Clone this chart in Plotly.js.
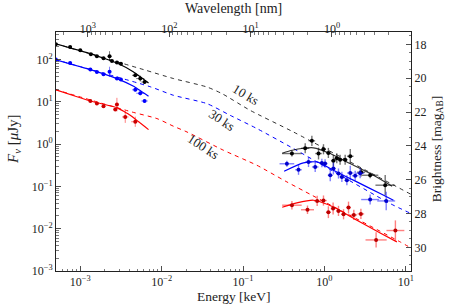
<!DOCTYPE html>
<html>
<head>
<meta charset="utf-8">
<script src="https://cdn.plot.ly/plotly-3.0.1.min.js"></script>
<style>html,body{margin:0;padding:0;background:#fff;}#chart{width:463px;height:305px;}</style>
</head>
<body>
<div id="chart"></div>
<script>
// ---- Data (Energy in keV, flux density in microJy) ----
// Unabsorbed model (dashed)
const mod10E = [4.93e-4, 6.0e-3, 0.014, 0.036, 0.0551, 0.1225, 0.417, 11.6];
const mod10F = [239, 58, 35.6, 22.5, 15.7, 6.3, 1.94, 0.065];
const mod30E = [4.93e-4, 7.24e-3, 0.014, 0.036, 0.0697, 0.148, 0.417, 6.43, 11.6];
const mod30F = [100, 22.8, 14.3, 9.1, 4.8, 2.34, 0.787, 0.0394, 0.0229];
const mod100E = [4.93e-4, 4.31e-3, 8.75e-3, 0.014, 0.0205, 0.0575, 0.148, 0.346, 8.53, 11.6];
const mod100F = [19.5, 5.77, 4.03, 2.65, 1.94, 0.718, 0.317, 0.128, 0.00488, 0.0035];

// Absorbed model, optical/UV (solid)
const opt10ModE = [4.93e-4, 1.33e-3, 2.82e-3, 4.52e-3, 6.9e-3];
const opt10ModF = [239, 138.6, 83, 50.9, 28];
const opt30ModE = [4.93e-4, 1.33e-3, 2.82e-3, 4.52e-3, 6.9e-3];
const opt30ModF = [100, 58, 35.6, 23.4, 13.6];
const opt100ModE = [4.93e-4, 1.33e-3, 2.82e-3, 4.11e-3, 6.9e-3];
const opt100ModF = [19.5, 10.5, 7.33, 4.82, 2.21];

// Absorbed model, X-ray (solid)
const xr10ModE = [0.303, 0.402, 0.553, 0.734, 1.18, 2.07, 4.01, 6.8];
const xr10ModF = [0.61, 0.718, 0.80, 0.82, 0.60, 0.348, 0.184, 0.101];
const xr30ModE = [0.32, 0.553, 0.81, 1.29, 2.51, 4.85, 7.06];
const xr30ModF = [0.229, 0.36, 0.38, 0.241, 0.128, 0.068, 0.047];
const xr100ModE = [0.303, 0.459, 0.734, 1.29, 2.51, 4.85, 7.78];
const xr100ModF = [0.0322, 0.0407, 0.0472, 0.0327, 0.0159, 0.00796, 0.00488];

// Optical/UV data points (errors in dex)
const opt10E = [5.0e-4, 7.5e-4, 1.0e-3, 1.35e-3, 1.6e-3, 1.93e-3, 2.29e-3, 2.45e-3, 2.82e-3, 3.16e-3, 4.74e-3, 5.46e-3, 6.17e-3];
const opt10F = [230, 199, 166, 133, 120, 107, 120, 93, 85, 80, 42.5, 35.6, 29.5];
const opt10Ex = [0.02,0.02,0.02,0.02,0.02,0.02,0.02,0.02,0.02,0.02,0.04,0.05,0.04];
const opt10Ey = [0.02,0.02,0.02,0.02,0.02,0.03,0.12,0.03,0.02,0.03,0.04,0.07,0.04];

const opt30E = [5.0e-4, 7.5e-4, 1.33e-3, 1.6e-3, 1.93e-3, 2.29e-3, 2.82e-3, 3.16e-3, 4.74e-3, 5.46e-3, 6.17e-3];
const opt30F = [100, 83, 58, 51, 44.9, 51.5, 35.6, 33.7, 19.3, 16, 10.5];
const opt30Ex = [0.02,0.02,0.02,0.02,0.02,0.02,0.02,0.02,0.04,0.05,0.04];
const opt30Ey = [0.02,0.02,0.02,0.02,0.03,0.12,0.02,0.03,0.04,0.05,0.04];

const opt100E = [1.33e-3, 1.6e-3, 1.93e-3, 2.69e-3, 2.82e-3, 3.57e-3, 4.74e-3];
const opt100F = [10.5, 9.1, 7.87, 6.58, 8.63, 4.4, 3.39];
const opt100Ex = [0.02,0.02,0.02,0.02,0.02,0.04,0.05];
const opt100Ey = [0.02,0.03,0.03,0.03,0.16,0.14,0.12];

// X-ray data points (errors in dex)
const xr10E = [0.399, 0.581, 0.702, 0.847, 0.975, 1.12, 1.29, 1.42, 1.56, 1.80, 2.08, 2.83, 3.65, 5.59];
const xr10F = [0.60, 0.80, 1.2, 0.60, 0.757, 0.62, 0.405, 0.465, 0.428, 0.428, 0.518, 0.217, 0.184, 0.107];
const xr10Ex = [0.12,0.05,0.04,0.04,0.03,0.03,0.03,0.03,0.03,0.03,0.04,0.05,0.1,0.12];
const xr10Ey = [0.07,0.12,0.12,0.14,0.12,0.12,0.14,0.12,0.12,0.12,0.17,0.1,0.07,0.24];

const xr30E = [0.346, 0.481, 0.638, 0.771, 0.931, 1.02, 1.18, 1.29, 1.49, 1.64, 1.89, 2.08, 2.39, 2.75, 3.65, 5.75];
const xr30F = [0.344, 0.248, 0.379, 0.289, 0.36, 0.348, 0.184, 0.265, 0.202, 0.168, 0.14, 0.208, 0.179, 0.205, 0.049, 0.0454];
const xr30Ex = [0.09,0.04,0.04,0.04,0.03,0.03,0.03,0.03,0.03,0.03,0.03,0.04,0.04,0.05,0.11,0.11];
const xr30Ey = [0.07,0.12,0.12,0.12,0.1,0.1,0.14,0.14,0.12,0.12,0.12,0.17,0.12,0.12,0.12,0.22];

const xr100E = [0.399, 0.62, 0.815, 0.975, 1.12, 1.28, 1.49, 1.72, 1.98, 2.30, 2.81, 4.32, 7.46];
const xr100F = [0.036, 0.0281, 0.0454, 0.0464, 0.0246, 0.0301, 0.0264, 0.022, 0.0317, 0.0212, 0.0224, 0.00543, 0.00906];
const xr100Ex = [0.12,0.08,0.04,0.04,0.03,0.03,0.03,0.03,0.03,0.04,0.04,0.13,0.11];
const xr100Ey = [0.1,0.1,0.12,0.12,0.14,0.14,0.12,0.12,0.14,0.12,0.12,0.18,0.24];

// Tick labels
const xTickVals = [1e-3, 1e-2, 1e-1, 1, 10];
const xTickText = ['10<sup>−3</sup>', '10<sup>−2</sup>', '10<sup>−1</sup>', '10<sup>0</sup>', '10<sup>1</sup>'];
const yTickVals = [1e-3, 1e-2, 1e-1, 1, 10, 100];
const yTickText = ['10<sup>−3</sup>', '10<sup>−2</sup>', '10<sup>−1</sup>', '10<sup>0</sup>', '10<sup>1</sup>', '10<sup>2</sup>'];
const waveTicks = [1000, 100, 10, 1];
const waveTickText = ['10<sup>3</sup>', '10<sup>2</sup>', '10<sup>1</sup>', '10<sup>0</sup>'];
const magTicks = [18, 20, 22, 24, 26, 28, 30];

// ---- Conversions ----
const HC = 1.23984; // keV nm
const AB0 = 23.9;   // AB zero point for microJy
const magToF = m => Math.pow(10, (AB0 - m) / 2.5);

function errs(v, d) {
  return {
    plus: v.map((f, i) => f * (Math.pow(10, d[i]) - 1)),
    minus: v.map((f, i) => f * (1 - Math.pow(10, -d[i])))
  };
}

const BLACK = '#000000', BLUE = '#0000ff', RED = '#ff0000';
const BLACKA = 'rgba(0,0,0,0.55)', BLUEA = 'rgba(0,0,255,0.5)', REDA = 'rgba(255,0,0,0.5)';

function pts(E, F, ex, ey, col, ecol, th) {
  const xe = errs(E, ex), ye = errs(F, ey);
  return {
    x: E, y: F, type: 'scatter', mode: 'markers', showlegend: false, hoverinfo: 'skip',
    marker: {color: col, size: 4, symbol: 'circle'},
    error_x: {type: 'data', symmetric: false, array: xe.plus, arrayminus: xe.minus, color: ecol, thickness: th, width: 0},
    error_y: {type: 'data', symmetric: false, array: ye.plus, arrayminus: ye.minus, color: ecol, thickness: th, width: 0}
  };
}
function line(E, F, col, dash, w, sm) {
  return {x: E, y: F, type: 'scatter', mode: 'lines', showlegend: false, hoverinfo: 'skip',
    line: {color: col, width: w, dash: dash, shape: 'spline', smoothing: sm}};
}

const traces = [
  line(mod10E, mod10F, 'rgba(0,0,0,0.8)', '4px,4px', 1, 0.6),
  line(mod30E, mod30F, BLUE, '4px,4px', 1, 0.6),
  line(mod100E, mod100F, RED, '4px,4px', 1, 0.6),
  line(opt10ModE, opt10ModF, BLACK, 'solid', 1.2, 0.3),
  line(opt30ModE, opt30ModF, BLUE, 'solid', 1.2, 0.3),
  line(opt100ModE, opt100ModF, RED, 'solid', 1.2, 0.3),
  line(xr10ModE, xr10ModF, 'rgba(0,0,0,0.8)', 'solid', 1.2, 0.6),
  line(xr30ModE, xr30ModF, BLUE, 'solid', 1.2, 0.6),
  line(xr100ModE, xr100ModF, RED, 'solid', 1.2, 0.6),
  pts(opt10E, opt10F, opt10Ex, opt10Ey, BLACK, BLACKA, 1),
  pts(opt30E, opt30F, opt30Ex, opt30Ey, BLUE, BLUEA, 1),
  pts(opt100E, opt100F, opt100Ex, opt100Ey, '#cc0000', REDA, 1),
  pts(xr10E, xr10F, xr10Ex, xr10Ey, BLACK, BLACKA, 1.4),
  pts(xr30E, xr30F, xr30Ex, xr30Ey, '#0000cc', BLUEA, 1.4),
  pts(xr100E, xr100F, xr100Ex, xr100Ey, '#bb0000', REDA, 1.4),
  {x: [], y: [], xaxis: 'x2', yaxis: 'y2', type: 'scatter', mode: 'markers', showlegend: false}
];

// minor tick positions
const xMinor = [], yMinor = [], wMinor = [], mMinor = [];
for (let n = -4; n <= 1; n++) for (let k = 2; k <= 9; k++) xMinor.push(k * Math.pow(10, n));
for (let n = -4; n <= 2; n++) for (let k = 2; k <= 9; k++) yMinor.push(k * Math.pow(10, n));
for (let n = -2; n <= 3; n++) for (let k = 2; k <= 9; k++) wMinor.push(HC / (k * Math.pow(10, n)));
for (let m = 17; m <= 32; m += 0.5) if (m % 2 !== 0) mMinor.push(magToF(m));

const FONT = 'Liberation Serif, DejaVu Serif, serif';
const tickFont = {family: FONT, size: 12, color: '#222'};
const xr = [Math.log10(5.03e-4), Math.log10(11.6)];
const yr = [-3, 2.653];

const common = {showline: true, linecolor: '#222', linewidth: 1, showgrid: false, zeroline: false,
  ticks: 'inside', ticklen: 5, tickwidth: 0.8, tickcolor: '#222', tickfont: tickFont, tickmode: 'array'};

const layout = {
  width: 463, height: 305,
  margin: {l: 56, r: 52, t: 32, b: 34, pad: 0},
  paper_bgcolor: '#fff', plot_bgcolor: '#fff',
  font: {family: FONT, color: '#222'},
  showlegend: false,
  xaxis: Object.assign({}, common, {type: 'log', range: xr, tickvals: xTickVals, ticktext: xTickText,
    minor: {ticks: 'inside', ticklen: 2.5, tickwidth: 0.6, tickcolor: '#222', tickmode: 'array', tickvals: xMinor}}),
  xaxis2: Object.assign({}, common, {type: 'log', range: xr, overlaying: 'x', side: 'top', anchor: 'y',
    ticklabelstandoff: -7,
    tickvals: waveTicks.map(w => HC / w), ticktext: waveTickText,
    minor: {ticks: 'inside', ticklen: 2.5, tickwidth: 0.6, tickcolor: '#222', tickmode: 'array', tickvals: wMinor}}),
  yaxis: Object.assign({}, common, {type: 'log', range: yr, tickvals: yTickVals, ticktext: yTickText,
    minor: {ticks: 'inside', ticklen: 2.5, tickwidth: 0.6, tickcolor: '#222', tickmode: 'array', tickvals: yMinor}}),
  yaxis2: Object.assign({}, common, {type: 'log', range: yr, overlaying: 'y', side: 'right', anchor: 'x',
    tickvals: magTicks.map(magToF), ticktext: magTicks.map(String),
    minor: {ticks: 'inside', ticklen: 2.5, tickwidth: 0.6, tickcolor: '#222', tickmode: 'array', tickvals: mMinor}}),
  annotations: [
    {text: 'Energy [keV]', xref: 'paper', yref: 'paper', x: 0.5, y: -0.108, showarrow: false, font: {size: 13.5}, xanchor: 'center', yanchor: 'middle'},
    {text: 'Wavelength [nm]', xref: 'paper', yref: 'paper', x: 0.5, y: 1.1, showarrow: false, font: {size: 14}, xanchor: 'center', yanchor: 'middle'},
    {text: '<i>F</i><sub><i>ν</i></sub> [<i>μ</i>Jy]', xref: 'paper', yref: 'paper', x: -0.12, y: 0.55, showarrow: false, textangle: -90, font: {size: 15}, xanchor: 'center', yanchor: 'middle'},
    {text: 'Brightness [mag<sub>AB</sub>]', xref: 'paper', yref: 'paper', x: 1.073, y: 0.513, showarrow: false, textangle: -90, font: {size: 13.5}, xanchor: 'center', yanchor: 'middle'},
    {text: '10 ks', xref: 'paper', yref: 'paper', x: 0.534, y: 0.739, showarrow: false, textangle: 31, font: {size: 13}, xanchor: 'center', yanchor: 'middle'},
    {text: '30 ks', xref: 'paper', yref: 'paper', x: 0.469, y: 0.631, showarrow: false, textangle: 33, font: {size: 13}, xanchor: 'center', yanchor: 'middle'},
    {text: '100 ks', xref: 'paper', yref: 'paper', x: 0.414, y: 0.519, showarrow: false, textangle: 33, font: {size: 13}, xanchor: 'center', yanchor: 'middle'}
  ]
};

Plotly.newPlot('chart', traces, layout, {staticPlot: true, displayModeBar: false});
</script>
</body>
</html>
